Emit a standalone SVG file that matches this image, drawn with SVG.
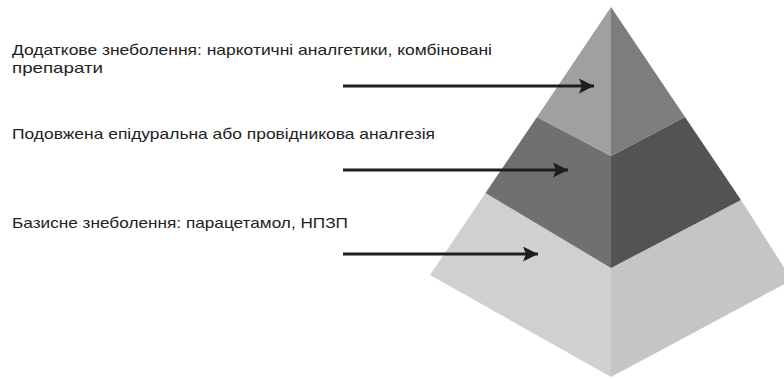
<svg xmlns="http://www.w3.org/2000/svg" width="784" height="379" viewBox="0 0 784 379">
<defs>
<style>
.lbl{font-family:"Liberation Sans",Arial,sans-serif;font-size:15px;fill:#222}
.arr{stroke:#1e1e1e;stroke-width:3;fill:none}
</style>
<marker id="ah" viewBox="0 0 10 10" refX="10" refY="5" markerWidth="6" markerHeight="5" markerUnits="strokeWidth" orient="auto">
<path d="M0,0 L10,5 L0,10 L2,5 Z" fill="#1e1e1e"/>
</marker>
</defs>
<rect width="784" height="379" fill="#ffffff"/>
<g id="pyramid">
<g id="tier-base">
<polygon points="430,275 485.5,193 611,268 611,377" fill="#d0d0d0"/>
<polygon points="611,268 741,200 792,280 611,377" fill="#c5c5c5"/>
</g>
<g id="tier-middle">
<polygon points="485.5,193 537,117 611,156 611,268" fill="#707070"/>
<polygon points="611,156 685,117 741,200 611,268" fill="#535353"/>
</g>
<g id="tier-top">
<polygon points="611,7 537,117 611,156" fill="#a0a0a0"/>
<polygon points="611,7 685,117 611,156" fill="#7d7d7d"/>
</g>
</g>
<g id="label-top">
<text class="lbl" x="12" y="55" textLength="480" lengthAdjust="spacingAndGlyphs">Додаткове знеболення: наркотичні аналгетики, комбіновані</text>
<text class="lbl" x="12" y="73" textLength="91" lengthAdjust="spacingAndGlyphs">препарати</text>
</g>
<g id="label-middle">
<text class="lbl" x="12" y="139" textLength="423" lengthAdjust="spacingAndGlyphs">Подовжена епідуральна або провідникова аналгезія</text>
</g>
<g id="label-base">
<text class="lbl" x="12" y="228" textLength="336" lengthAdjust="spacingAndGlyphs">Базисне знеболення: парацетамол, НПЗП</text>
</g>
<g id="connectors">
<line class="arr" x1="343" y1="86" x2="594" y2="86" marker-end="url(#ah)"/>
<line class="arr" x1="343" y1="170" x2="568" y2="170" marker-end="url(#ah)"/>
<line class="arr" x1="343" y1="254" x2="538" y2="254" marker-end="url(#ah)"/>
</g>
</svg>
